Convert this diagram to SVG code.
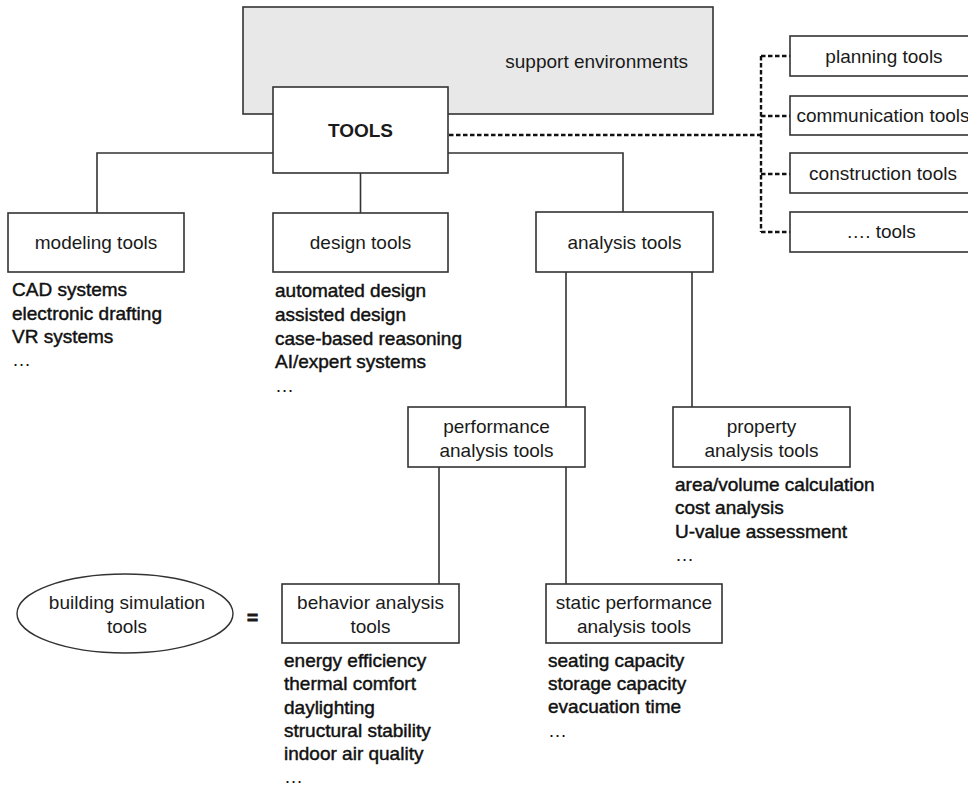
<svg xmlns="http://www.w3.org/2000/svg" width="968" height="787" viewBox="0 0 968 787">
  <style>
    .box { fill: #ffffff; stroke: #333333; stroke-width: 1.6; }
    .env { fill: #e8e8e8; stroke: #333333; stroke-width: 1.6; }
    .lbl { font-family: "Liberation Sans", Arial, sans-serif; font-size: 19px; fill: #1a1a1a; text-anchor: middle; }
    .item { font-family: "Liberation Sans", Arial, sans-serif; font-size: 19px; fill: #111111; stroke: #111111; stroke-width: 0.45; }
    .dots { font-family: "Liberation Sans", Arial, sans-serif; font-size: 19px; fill: #111111; }
    .solid { fill: none; stroke: #333333; stroke-width: 1.6; }
    .dash { fill: none; stroke: #111111; stroke-width: 2.4; stroke-dasharray: 4.5 2.5; }
  </style>

  <rect width="968" height="787" fill="#ffffff"/>

  <!-- connectors -->
  <g id="connectors">
    <path class="solid" d="M273,153 H97 V213"/>
    <path class="solid" d="M360.5,173 V213"/>
    <path class="solid" d="M448,153 H623 V212"/>
    <path class="solid" d="M566,272 V407"/>
    <path class="solid" d="M692,272 V407"/>
    <path class="solid" d="M439,467 V584"/>
    <path class="solid" d="M566,467 V584"/>
    <path class="dash" d="M449,135 H761"/>
    <path class="dash" d="M761,56 V232"/>
    <path class="dash" d="M761,56 H790"/>
    <path class="dash" d="M761,116 H790"/>
    <path class="dash" d="M761,174 H790"/>
    <path class="dash" d="M761,232 H790"/>
  </g>

  <g id="support-environments">
    <rect class="env" x="243" y="7" width="470" height="107"/>
    <text class="lbl" x="688" y="68" style="text-anchor:end">support environments</text>
  </g>

  <g id="tools">
    <rect class="box" x="273" y="87" width="175" height="86"/>
    <text class="lbl" x="360.5" y="137" font-weight="bold">TOOLS</text>
  </g>

  <g id="planning-tools">
    <rect class="box" x="790" y="36" width="190" height="40"/>
    <text class="lbl" x="884" y="63">planning tools</text>
  </g>
  <g id="communication-tools">
    <rect class="box" x="790" y="96" width="190" height="39"/>
    <text class="lbl" x="883" y="122">communication tools</text>
  </g>
  <g id="construction-tools">
    <rect class="box" x="790" y="153" width="190" height="40"/>
    <text class="lbl" x="883" y="180">construction tools</text>
  </g>
  <g id="other-tools">
    <rect class="box" x="790" y="212" width="190" height="40"/>
    <text class="lbl" x="881" y="238">…. tools</text>
  </g>

  <g id="modeling-tools">
    <rect class="box" x="8" y="213" width="176" height="59"/>
    <text class="lbl" x="96" y="249">modeling tools</text>
    <text class="item" x="12" y="296">CAD systems</text>
    <text class="item" x="12" y="319.5">electronic drafting</text>
    <text class="item" x="12" y="343">VR systems</text>
    <text class="dots" x="12" y="366">…</text>
  </g>

  <g id="design-tools">
    <rect class="box" x="273" y="213" width="175" height="59"/>
    <text class="lbl" x="360.5" y="249">design tools</text>
    <text class="item" x="275" y="297">automated design</text>
    <text class="item" x="275" y="321">assisted design</text>
    <text class="item" x="275" y="345">case-based reasoning</text>
    <text class="item" x="275" y="368">AI/expert systems</text>
    <text class="dots" x="275" y="392">…</text>
  </g>

  <g id="analysis-tools">
    <rect class="box" x="536" y="212" width="177" height="60"/>
    <text class="lbl" x="624.5" y="249">analysis tools</text>
  </g>

  <g id="performance-analysis-tools">
    <rect class="box" x="408" y="407" width="177" height="60"/>
    <text class="lbl" x="496.5" y="433">performance</text>
    <text class="lbl" x="496.5" y="457">analysis tools</text>
  </g>

  <g id="property-analysis-tools">
    <rect class="box" x="673" y="407" width="177" height="60"/>
    <text class="lbl" x="761.5" y="433">property</text>
    <text class="lbl" x="761.5" y="457">analysis tools</text>
    <text class="item" x="675" y="491">area/volume calculation</text>
    <text class="item" x="675" y="514">cost analysis</text>
    <text class="item" x="675" y="538">U-value assessment</text>
    <text class="dots" x="675" y="561">…</text>
  </g>

  <g id="building-simulation-tools">
    <ellipse cx="125" cy="613.5" rx="108" ry="39.5" fill="#ffffff" stroke="#333333" stroke-width="1.4"/>
    <text class="lbl" x="127" y="609">building simulation</text>
    <text class="lbl" x="127" y="633">tools</text>
  </g>

  <g id="equals">
    <text class="lbl" x="252.5" y="623.5" font-size="28" font-weight="bold" stroke="#1a1a1a" stroke-width="0.8">=</text>
  </g>

  <g id="behavior-analysis-tools">
    <rect class="box" x="282" y="584" width="177" height="59"/>
    <text class="lbl" x="370.5" y="609">behavior analysis</text>
    <text class="lbl" x="370.5" y="633">tools</text>
    <text class="item" x="284" y="667">energy efficiency</text>
    <text class="item" x="284" y="690">thermal comfort</text>
    <text class="item" x="284" y="713.5">daylighting</text>
    <text class="item" x="284" y="737">structural stability</text>
    <text class="item" x="284" y="760">indoor air quality</text>
    <text class="dots" x="284" y="783">…</text>
  </g>

  <g id="static-performance-analysis-tools">
    <rect class="box" x="546" y="584" width="176" height="59"/>
    <text class="lbl" x="634" y="609">static performance</text>
    <text class="lbl" x="634" y="633">analysis tools</text>
    <text class="item" x="548" y="667">seating capacity</text>
    <text class="item" x="548" y="690">storage capacity</text>
    <text class="item" x="548" y="713">evacuation time</text>
    <text class="dots" x="548" y="737">…</text>
  </g>
</svg>
